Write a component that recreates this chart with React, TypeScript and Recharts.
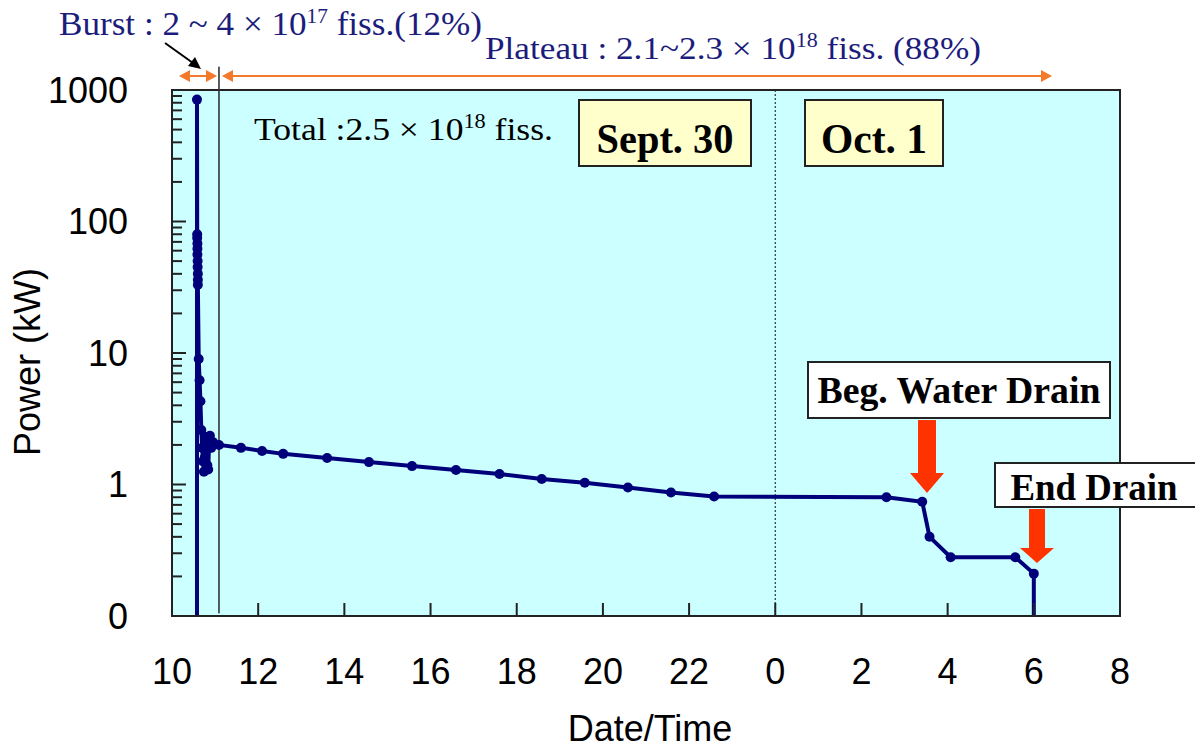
import React from "react";
import { LineChart, Line, XAxis, YAxis, CartesianGrid, ReferenceLine, ReferenceArea } from "recharts";

// hours since midnight Sept. 30 (24 = 0:00 Oct. 1)
const hours = [
  10.58, 10.58, 10.585, 10.585, 10.59, 10.59, 10.59, 10.595, 10.595, 10.6, 10.6, 10.6,
  10.62, 10.64, 10.66, 10.68, 10.7, 10.72, 10.74, 10.76, 10.78, 10.8, 10.82, 10.84,
  10.86, 10.88, 10.91, 10.95, 11.09, 11.6, 12.09, 12.58, 13.6, 14.57, 15.57, 16.59,
  17.6, 18.58, 19.58, 20.58, 21.58, 22.58, 26.58, 27.41, 27.58, 28.07, 29.57, 30.0, 30.0,
];
const powerKW = [
  0.1, 845, 80, 75, 68, 62, 56, 50, 45, 40, 36, 33,
  9.0, 6.2, 4.3, 2.6, 1.9, 1.5, 1.25, 1.6, 2.3, 1.85, 1.4, 1.3,
  2.0, 2.35, 1.9, 2.1, 2.0, 1.9, 1.8, 1.71, 1.59, 1.48, 1.38, 1.29,
  1.2, 1.1, 1.03, 0.95, 0.87, 0.81, 0.8, 0.74, 0.4, 0.28, 0.28, 0.21, 0.1,
];
const xTicks = [10, 12, 14, 16, 18, 20, 22, 24, 26, 28, 30, 32];
const yMajorTicks = [0.1, 1, 10, 100, 1000];
const yMinorTicks = [
  0.2, 0.3, 0.4, 0.5, 0.6, 0.7, 0.8, 0.9,
  2, 3, 4, 5, 6, 7, 8, 9,
  20, 30, 40, 50, 60, 70, 80, 90,
  200, 300, 400, 500, 600, 700, 800, 900,
];

const data = hours.map((t, i) => ({ t, p: powerKW[i] }));

const NAVY = "#00007a";
const ORANGE = "#f27a2a";
const RED = "#ff3300";
const SERIF = "'Liberation Serif', 'Times New Roman', serif";
const SANS = "'Liberation Sans', Arial, sans-serif";
const X_MIN = 10;
const X_MAX = 32;
const Y_MIN = 0.1;
const Y_MAX = 1000;

// plot box inside the chart svg
const W = 1187;
const H = 735;
const M = { top: 82, right: 75, bottom: 67, left: 84 };
const Y_AXIS_W = 80;
const X_AXIS_H = 60;
const PL = M.left + Y_AXIS_W;
const PR = W - M.right;
const PT = M.top;
const PB = H - M.bottom - X_AXIS_H;
const px = (t: number) => PL + ((t - X_MIN) / (X_MAX - X_MIN)) * (PR - PL);
const py = (v: number) =>
  PB - ((Math.log10(v) - Math.log10(Y_MIN)) / (Math.log10(Y_MAX) - Math.log10(Y_MIN))) * (PB - PT);

const renderDot = (props: any) => {
  const { cx, cy, index, payload } = props;
  if (payload.p <= 0.1) return <g key={`d${index}`} />;
  return <circle key={`d${index}`} cx={cx} cy={cy} r={5} fill={NAVY} />;
};

function HArrow({ x1, x2, y }: { x1: number; x2: number; y: number }) {
  return (
    <g>
      <line x1={x1 + 8} y1={y} x2={x2 - 8} y2={y} stroke={ORANGE} strokeWidth={2} />
      <polygon points={`${x1},${y} ${x1 + 11},${y - 6} ${x1 + 11},${y + 6}`} fill={ORANGE} />
      <polygon points={`${x2},${y} ${x2 - 11},${y - 6} ${x2 - 11},${y + 6}`} fill={ORANGE} />
    </g>
  );
}

function DownArrow({ x, top, neck, tip, shaft, head }: any) {
  return (
    <polygon
      fill={RED}
      points={`${x - shaft / 2},${top} ${x + shaft / 2},${top} ${x + shaft / 2},${neck} ${x + head / 2},${neck} ${x},${tip} ${x - head / 2},${neck} ${x - shaft / 2},${neck}`}
    />
  );
}

export default function App() {
  return (
    <div style={{ position: "relative", width: W, height: H }}>
      <LineChart width={W} height={H} data={data} margin={M}>
        <CartesianGrid horizontal={false} vertical={false} fill="#ccffff" />
        <XAxis
          type="number"
          dataKey="t"
          domain={[X_MIN, X_MAX]}
          ticks={xTicks}
          tickFormatter={(v: number) => String(v % 24)}
          height={X_AXIS_H}
          tickSize={0}
          tickMargin={42}
          tickLine={false}
          axisLine={{ stroke: "#222", strokeWidth: 2 }}
          tick={{ fill: "#000", fontSize: 36, fontFamily: SANS }}
        />
        <YAxis
          scale="log"
          domain={[Y_MIN, Y_MAX]}
          allowDataOverflow
          ticks={yMajorTicks}
          tickFormatter={(v: number) => (v < 1 ? "0" : String(v))}
          width={Y_AXIS_W}
          tickLine={false}
          tickMargin={44}
          tickSize={0}
          axisLine={{ stroke: "#222", strokeWidth: 2 }}
          tick={{ fill: "#000", fontSize: 36, fontFamily: SANS }}
        />
        <ReferenceArea x1={X_MIN} x2={X_MAX} y1={Y_MIN} y2={Y_MAX} fill="none" fillOpacity={0} stroke="#222" strokeWidth={2} />
        <ReferenceLine x={24} stroke="#333" strokeWidth={1.2} strokeDasharray="2 2" />
        <ReferenceLine
          segment={[{ x: 11.09, y: 0.105 }, { x: 11.09, y: 1500 }]}
          ifOverflow="visible"
          stroke="#333"
          strokeWidth={1.6}
        />
        <Line
          type="linear"
          dataKey="p"
          stroke={NAVY}
          strokeWidth={4}
          dot={renderDot}
          activeDot={false}
          isAnimationActive={false}
        />
      </LineChart>
      <svg
        width={W}
        height={H}
        style={{ position: "absolute", left: 0, top: 0, pointerEvents: "none", overflow: "visible" }}
      >
        {/* inward tick marks */}
        <g stroke="#222" strokeWidth={2}>
          {yMajorTicks.map((v) => (
            <line key={`ym${v}`} x1={PL} x2={PL + 14} y1={py(v)} y2={py(v)} />
          ))}
          {yMinorTicks.map((v) => (
            <line key={`yn${v}`} x1={PL} x2={PL + 10} y1={py(v)} y2={py(v)} />
          ))}
          {xTicks.slice(1, -1).map((t) => (
            <line key={`x${t}`} x1={px(t)} x2={px(t)} y1={PB} y2={PB - 13} />
          ))}
        </g>
        <g transform="translate(-8,-8)">
          <text x={59} y={35} fill="#1c1c7c" fontFamily={SERIF} fontSize={33} textLength={423} lengthAdjust="spacingAndGlyphs">
            Burst : 2 ~ 4 × 10<tspan dy={-12} fontSize={20}>17</tspan>
            <tspan dy={12}> fiss.(12%)</tspan>
          </text>
          <text x={485} y={59} fill="#1c1c7c" fontFamily={SERIF} fontSize={32} textLength={496} lengthAdjust="spacingAndGlyphs">
            Plateau : 2.1~2.3 × 10<tspan dy={-12} fontSize={20}>18</tspan>
            <tspan dy={12}> fiss. (88%)</tspan>
          </text>
          <line x1={165} y1={43} x2={193} y2={63} stroke="#000" strokeWidth={2} />
          <polygon points="201,69 188,66 195,57" fill="#000" />
          <HArrow x1={179} x2={217} y={76} />
          <HArrow x1={222} x2={1052} y={76} />

          <text x={254} y={140} fill="#000" fontFamily={SERIF} fontSize={32} textLength={299} lengthAdjust="spacingAndGlyphs">
            Total :2.5 × 10<tspan dy={-12} fontSize={20}>18</tspan>
            <tspan dy={12}> fiss.</tspan>
          </text>

          <rect x={579} y={100} width={172} height={66} fill="#ffffcc" stroke="#222" strokeWidth={2} />
          <text x={665} y={153} textAnchor="middle" fontFamily={SERIF} fontWeight="bold" fontSize={42} textLength={137} lengthAdjust="spacingAndGlyphs">
            Sept. 30
          </text>
          <rect x={805} y={100} width={138} height={66} fill="#ffffcc" stroke="#222" strokeWidth={2} />
          <text x={874} y={153} textAnchor="middle" fontFamily={SERIF} fontWeight="bold" fontSize={42} textLength={106} lengthAdjust="spacingAndGlyphs">
            Oct. 1
          </text>

          <rect x={808} y={362} width={302} height={56} fill="#fff" stroke="#222" strokeWidth={2} />
          <text x={959} y={403} textAnchor="middle" fontFamily={SERIF} fontWeight="bold" fontSize={38} textLength={283} lengthAdjust="spacingAndGlyphs">
            Beg. Water Drain
          </text>
          <DownArrow x={927} top={420} neck={473} tip={493} shaft={18} head={34} />

          <rect x={995} y={463} width={201} height={44} fill="#fff" stroke="#222" strokeWidth={2} />
          <text x={1094} y={500} textAnchor="middle" fontFamily={SERIF} fontWeight="bold" fontSize={37} textLength={167} lengthAdjust="spacingAndGlyphs">
            End Drain
          </text>
          <DownArrow x={1037} top={509} neck={548} tip={563} shaft={16} head={34} />

          <text x={40} y={362} transform="rotate(-90 40 362)" textAnchor="middle" fontFamily={SANS} fontSize={36} fill="#000">
            Power (kW)
          </text>
          <text x={650} y={741} textAnchor="middle" fontFamily={SANS} fontSize={36} fill="#000">
            Date/Time
          </text>
        </g>
      </svg>
    </div>
  );
}
